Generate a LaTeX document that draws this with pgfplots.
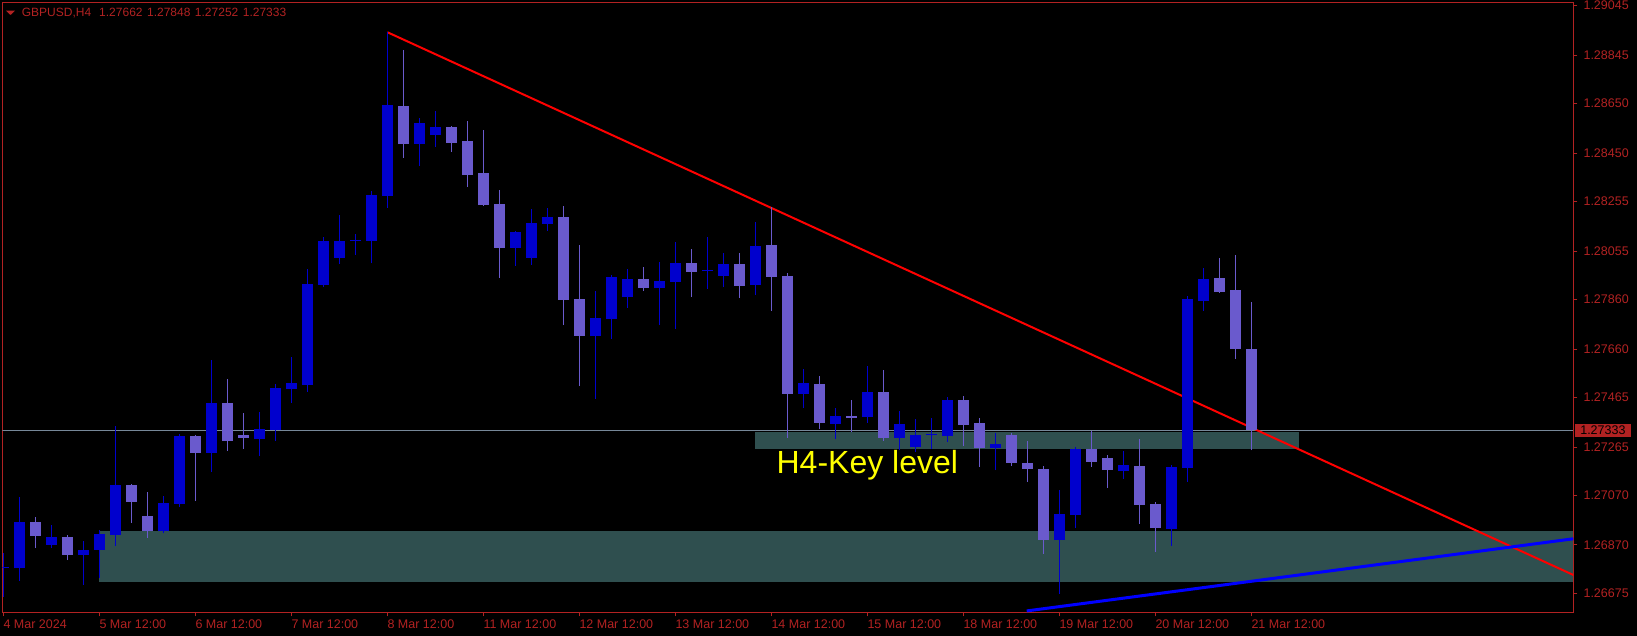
\documentclass[border=0pt]{standalone}
\usepackage{fontspec}
\setmainfont{Liberation Sans}
\usepackage{pgfplots}
\usepackage{pgfplotstable}
\pgfplotsset{compat=1.18}
\definecolor{axred}{RGB}{178,34,34}
\definecolor{bullc}{RGB}{0,0,205}
\definecolor{bearc}{RGB}{106,90,205}
\definecolor{boxc}{RGB}{47,79,79}
\definecolor{pricec}{RGB}{119,136,153}
\definecolor{tline}{RGB}{255,0,0}
\definecolor{uline}{RGB}{0,0,255}

\pgfplotstableread{
i o h l c
0 1.26776 1.26836 1.26661 1.26780
1 1.26776 1.27065 1.26726 1.26964
3 1.26870 1.26951 1.26857 1.26901
5 1.26830 1.26887 1.26709 1.26850
6 1.26851 1.26930 1.26738 1.26914
7 1.26910 1.27350 1.26866 1.27112
10 1.26926 1.27068 1.26917 1.27039
11 1.27037 1.27318 1.27024 1.27310
13 1.27241 1.27616 1.27166 1.27441
16 1.27297 1.27406 1.27230 1.27337
17 1.27334 1.27519 1.27289 1.27503
18 1.27499 1.27628 1.27443 1.27523
19 1.27515 1.27982 1.27488 1.27923
20 1.27919 1.28111 1.27910 1.28096
21 1.28029 1.28201 1.28003 1.28096
22 1.28096 1.28123 1.28040 1.28100
23 1.28096 1.28298 1.28006 1.28282
24 1.28279 1.28938 1.28230 1.28644
26 1.28487 1.28593 1.28400 1.28572
27 1.28523 1.28620 1.28476 1.28556
32 1.28069 1.28136 1.27996 1.28132
33 1.28029 1.28225 1.28000 1.28169
34 1.28166 1.28229 1.28138 1.28193
37 1.27714 1.27894 1.27460 1.27785
38 1.27781 1.27958 1.27702 1.27951
39 1.27870 1.27983 1.27827 1.27943
41 1.27906 1.28013 1.27757 1.27935
42 1.27931 1.28092 1.27741 1.28007
44 1.27973 1.28112 1.27902 1.27977
45 1.27955 1.28048 1.27910 1.28003
47 1.27919 1.28173 1.27878 1.28076
50 1.27479 1.27580 1.27422 1.27523
52 1.27359 1.27422 1.27297 1.27390
54 1.27386 1.27592 1.27362 1.27487
56 1.27301 1.27410 1.27253 1.27358
57 1.27265 1.27378 1.27245 1.27314
58 1.27313 1.27382 1.27257 1.27317
59 1.27310 1.27467 1.27285 1.27455
62 1.27261 1.27322 1.27172 1.27277
66 1.26890 1.27092 1.26672 1.26995
67 1.26991 1.27265 1.26938 1.27257
70 1.27168 1.27249 1.27136 1.27193
73 1.26934 1.27193 1.26866 1.27185
74 1.27180 1.27874 1.27125 1.27862
75 1.27854 1.27987 1.27814 1.27943
}\bull

\pgfplotstableread{
i o h l c
2 1.26964 1.26982 1.26857 1.26907
4 1.26901 1.26910 1.26809 1.26830
8 1.27112 1.27116 1.26960 1.27045
9 1.26987 1.27084 1.26899 1.26926
12 1.27310 1.27314 1.27047 1.27241
14 1.27441 1.27539 1.27249 1.27289
15 1.27314 1.27401 1.27257 1.27303
25 1.28640 1.28866 1.28432 1.28487
28 1.28556 1.28560 1.28455 1.28492
29 1.28499 1.28580 1.28315 1.28362
30 1.28370 1.28544 1.28239 1.28241
31 1.28245 1.28302 1.27948 1.28069
35 1.28193 1.28237 1.27757 1.27859
36 1.27862 1.28080 1.27511 1.27714
40 1.27943 1.27991 1.27894 1.27906
43 1.28007 1.28064 1.27870 1.27971
46 1.28003 1.28048 1.27866 1.27914
48 1.28080 1.28233 1.27814 1.27951
49 1.27955 1.27967 1.27301 1.27479
51 1.27519 1.27551 1.27338 1.27362
53 1.27390 1.27455 1.27326 1.27382
55 1.27487 1.27576 1.27289 1.27301
60 1.27455 1.27471 1.27269 1.27354
61 1.27362 1.27382 1.27185 1.27261
63 1.27314 1.27322 1.27189 1.27201
64 1.27201 1.27289 1.27124 1.27176
65 1.27176 1.27189 1.26834 1.26890
68 1.27257 1.27330 1.27185 1.27205
69 1.27221 1.27233 1.27100 1.27172
71 1.27189 1.27297 1.26955 1.27031
72 1.27035 1.27043 1.26842 1.26938
76 1.27947 1.28027 1.27888 1.27890
77 1.27898 1.28040 1.27621 1.27660
78 1.27662 1.27848 1.27252 1.27333
}\bear

\begin{document}
\begin{tikzpicture}
\useasboundingbox (0pt,0pt) rectangle (1637pt,636pt);
\fill[black] (0pt,0pt) rectangle (1637pt,636pt);
\begin{axis}[
  at={(2.3pt,23.7pt)}, anchor=south west,
  scale only axis, width=1571pt, height=610pt,
  xmin=-0.0625, xmax=98.125, ymin=1.265985, ymax=1.290586,
  axis line style={draw=axred, line width=1pt},
  clip mode=individual,
  xtick={0,6,...,78},
  xticklabels={4 Mar 2024,5 Mar 12:00,6 Mar 12:00,7 Mar 12:00,8 Mar 12:00,11 Mar 12:00,12 Mar 12:00,13 Mar 12:00,14 Mar 12:00,15 Mar 12:00,18 Mar 12:00,19 Mar 12:00,20 Mar 12:00,21 Mar 12:00},
  ytick={1.29045,1.28845,1.28650,1.28450,1.28255,1.28055,1.27860,1.27660,1.27465,1.27265,1.27070,1.26870,1.26675},
  yticklabels={1.29045,1.28845,1.28650,1.28450,1.28255,1.28055,1.27860,1.27660,1.27465,1.27265,1.27070,1.26870,1.26675},
  xtick pos=left, ytick pos=right, yticklabel pos=right,
  tick align=outside, major tick length=4pt,
  tick style={draw=axred, line width=1pt},
  xticklabel style={anchor=north west, inner sep=0pt, yshift=-3pt, font=\fontsize{12.5pt}{12.5pt}\selectfont, text=axred},
  yticklabel style={anchor=west, inner sep=0pt, xshift=6pt, font=\fontsize{12.5pt}{12.5pt}\selectfont, text=axred},
]
% zones
\addplot[fill=boxc, draw=none] coordinates {(6,1.26722) (98.125,1.26722) (98.125,1.26927) (6,1.26927)} -- cycle;
\addplot[fill=boxc, draw=none] coordinates {(47,1.27257) (81,1.27257) (81,1.27326) (47,1.27326)} -- cycle;
% current price line
\addplot[pricec, line width=1pt] coordinates {(-0.0625,1.27333) (98.125,1.27333)};
% trend lines
\addplot[tline, line width=2pt] coordinates {(24,1.28938) (98.125,1.26749)};
\addplot[uline, line width=3pt] coordinates {(63.96,1.26604) (98.125,1.26895)};
% wicks
\addplot[draw=none, mark=none, error bars/.cd, y dir=plus, y explicit, error mark=none,
  error bar style={draw=bullc, line width=1pt}]
  table[x=i, y=l, y error expr={\thisrow{h}-\thisrow{l}}] {\bull};
\addplot[draw=none, mark=none, error bars/.cd, y dir=plus, y explicit, error mark=none,
  error bar style={draw=bearc, line width=1pt}]
  table[x=i, y=l, y error expr={\thisrow{h}-\thisrow{l}}] {\bear};
% bodies
\addplot[draw=none, mark=none, error bars/.cd, y dir=plus, y explicit, error mark=none,
  error bar style={draw=bullc, line width=11pt}]
  table[x=i, y=o, y error expr={\thisrow{c}-\thisrow{o}}] {\bull};
\addplot[draw=none, mark=none, error bars/.cd, y dir=plus, y explicit, error mark=none,
  error bar style={draw=bearc, line width=11pt}]
  table[x=i, y=c, y error expr={\thisrow{o}-\thisrow{c}}] {\bear};
% labels
\node[anchor=base, text={rgb,255:red,255;green,255;blue,0}, font=\fontsize{32pt}{32pt}\selectfont, inner sep=0pt] at (axis cs:54,1.27159) {H4-Key level};
\node[anchor=west, fill=axred, text=black, inner sep=0pt, minimum width=56.7pt, minimum height=13pt, font=\fontsize{12.5pt}{12.5pt}\selectfont, xshift=1pt] at (axis cs:98.125,1.27333) {1.27333};
\end{axis}
\fill[axred] (6pt,625.3pt) -- (15pt,625.3pt) -- (10.5pt,621pt) -- cycle;
\node[anchor=base west, inner sep=0pt, text=axred, font=\fontsize{12pt}{12pt}\selectfont] at (21.7pt,619.3pt) {GBPUSD,H4\hspace{8pt}1.27662\hspace{4.5pt}1.27848\hspace{4.5pt}1.27252\hspace{4.5pt}1.27333};
\end{tikzpicture}
\end{document}
